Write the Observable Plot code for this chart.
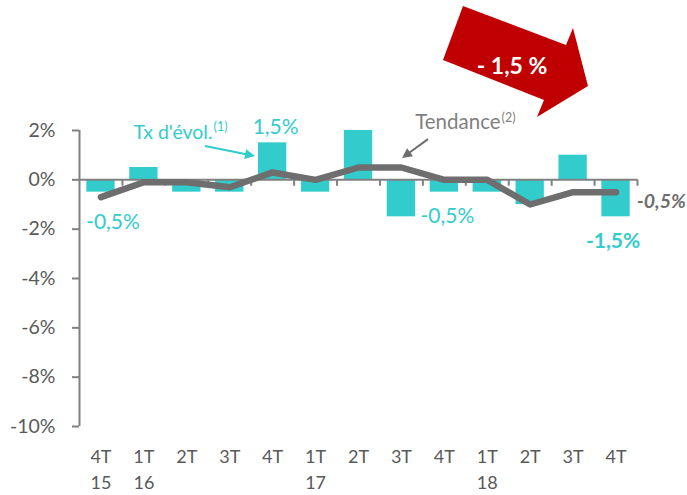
<!DOCTYPE html>
<html>
<head>
<meta charset="utf-8">
<script src="https://cdn.jsdelivr.net/npm/d3@7"></script>
<script src="https://cdn.jsdelivr.net/npm/@observablehq/plot@0.6"></script>
<style>
  html, body { margin: 0; padding: 0; background: #ffffff; }
  #chart { width: 687px; height: 495px; }
</style>
</head>
<body>
<div id="chart"></div>
<script>
// ---- data ----
const quarters = ["4T","1T","2T","3T","4T","1T","2T","3T","4T","1T","2T","3T","4T"];
const years    = ["15","16","","","","17","","","","18","","",""];
const evolution = [-0.5, 0.5, -0.5, -0.5, 1.5, -0.5, 2, -1.5, -0.5, -0.5, -1, 1, -1.5];
const tendance  = [-0.7, -0.1, -0.1, -0.3, 0.3, 0, 0.5, 0.5, 0, 0, -1, -0.5, -0.5];
const yTicks = [2, 0, -2, -4, -6, -8, -10];
const bigArrowText = "- 1,5 %";

// ---- styles ----
const cyan = "#33CCCC";
const lineGray = "#6E6E6E";
const axisGray = "#808080";
const textGray = "#595959";

const rows = quarters.map((q, i) => ({i, q, yr: years[i], evol: evolution[i], tend: tendance[i]}));
const idx = rows.map(d => d.i);
const boundaries = rows.map(d => d.i + 0.5);

// annotation arrows (data coordinates)
const annArrows = [
  {x1: 2.435, y1: 1.35, x2: 3.60, y2: 0.944, color: cyan},
  {x1: 7.63, y1: 1.63, x2: 7.025, y2: 0.86, color: lineGray}
];
// big red arrow polygon (data coordinates)
const bigArrow = [
  [8.446, 7.025], [10.846, 5.445], [11.009, 6.135], [11.358, 3.782],
  [10.170, 2.525], [10.333, 3.214], [7.980, 4.836]
];
const bigArrowLabelPos = [9.588, 4.63];

function annArrowMark(index, scales) {
  const {x, y} = scales;
  const g = d3.create("svg:g");
  for (const a of annArrows) {
    const X1 = x(a.x1), Y1 = y(a.y1), X2 = x(a.x2), Y2 = y(a.y2);
    const dx = X2 - X1, dy = Y2 - Y1, L = Math.hypot(dx, dy);
    const ux = dx / L, uy = dy / L;
    const hl = 10, hw = 5;
    const bx = X2 - ux * hl, by = Y2 - uy * hl;
    g.append("line").attr("x1", X1).attr("y1", Y1).attr("x2", bx + ux).attr("y2", by + uy)
      .attr("stroke", a.color).attr("stroke-width", 2);
    g.append("path")
      .attr("d", `M${X2},${Y2}L${bx - uy * hw},${by + ux * hw}L${bx + uy * hw},${by - ux * hw}Z`)
      .attr("fill", a.color);
  }
  return g.node();
}

function bigArrowMark(index, scales) {
  const {x, y} = scales;
  const g = d3.create("svg:g");
  g.append("path")
    .attr("d", "M" + bigArrow.map(([a, b]) => `${x(a)},${y(b)}`).join("L") + "Z")
    .attr("fill", "#C00000");
  g.append("text")
    .attr("x", x(bigArrowLabelPos[0])).attr("y", y(bigArrowLabelPos[1]))
    .attr("text-anchor", "middle").attr("dominant-baseline", "central")
    .attr("fill", "#ffffff").attr("font-weight", "bold").attr("font-size", 23)
    .text(bigArrowText);
  return g.node();
}

const chart = Plot.plot({
  width: 687,
  height: 495,
  marginLeft: 79,
  marginRight: 50,
  marginTop: 130,
  marginBottom: 69,
  style: {fontFamily: "Lato, 'Open Sans', sans-serif", background: "#ffffff", overflow: "visible"},
  x: {type: "linear", domain: [-0.5, 12.5], axis: null},
  y: {domain: [-10, 2], axis: null},
  marks: [
    Plot.rectY(rows, {x1: d => d.i - 0.33, x2: d => d.i + 0.33, y1: 0, y2: "evol", fill: cyan}),
    Plot.ruleX([-0.5], {stroke: axisGray, strokeWidth: 2}),
    Plot.ruleY([0], {stroke: axisGray, strokeWidth: 2}),
    Plot.ruleX(boundaries, {y1: 0, y2: -0.26, stroke: axisGray, strokeWidth: 2}),
    Plot.axisY({ticks: yTicks, tickSize: 7, tickPadding: 17, tickFormat: d => d + "%", label: null,
      stroke: axisGray, strokeWidth: 2, fill: textGray, fontSize: 19.5}),
    Plot.axisX({ticks: idx, tickSize: 0, tickPadding: 18, lineHeight: 1.45, label: null,
      tickFormat: i => quarters[i] + (years[i] ? "\n" + years[i] : ""),
      fill: textGray, fontSize: 18}),
    Plot.line(rows, {x: "i", y: "tend", stroke: lineGray, strokeWidth: 6.5,
      strokeLinejoin: "round", strokeLinecap: "round"}),
    // value labels
    Plot.text(["-0,5%"], {x: 0, y: -0.5, text: d => d, dx: 12, dy: 30, fill: cyan, fontSize: 21}),
    Plot.text(["1,5%"], {x: 4, y: 1.5, text: d => d, dx: 3, dy: -16, fill: cyan, fontSize: 21}),
    Plot.text(["-0,5%"], {x: 7, y: -1.5, text: d => d, dx: 46, dy: -1, fill: cyan, fontSize: 21}),
    Plot.text(["-1,5%"], {x: 12, y: -1.5, text: d => d, dx: -3, dy: 24, fill: cyan, fontSize: 21, fontWeight: "bold"}),
    Plot.text(["-0,5%"], {x: 12, y: -0.5, text: d => d, dx: 21, dy: 10, textAnchor: "start",
      fill: lineGray, fontSize: 19.5, fontWeight: "bold", fontStyle: "italic"}),
    // series annotations
    Plot.text(["Tx d'évol."], {x: 2.6, y: 1.92, text: d => d, textAnchor: "end", fill: cyan, fontSize: 19.5}),
    Plot.text(["(1)"], {x: 2.6, y: 1.92, text: d => d, textAnchor: "start", dx: 1, dy: -5, fill: cyan, fontSize: 12.5}),
    Plot.text(["Tendance"], {x: 9.31, y: 2.32, text: d => d, textAnchor: "end", fill: "#7F7F7F", fontSize: 20.5}),
    Plot.text(["(2)"], {x: 9.31, y: 2.32, text: d => d, textAnchor: "start", dx: 1, dy: -5, fill: "#7F7F7F", fontSize: 12.5}),
    annArrowMark,
    bigArrowMark
  ]
});
document.getElementById("chart").appendChild(chart);
</script>
</body>
</html>
